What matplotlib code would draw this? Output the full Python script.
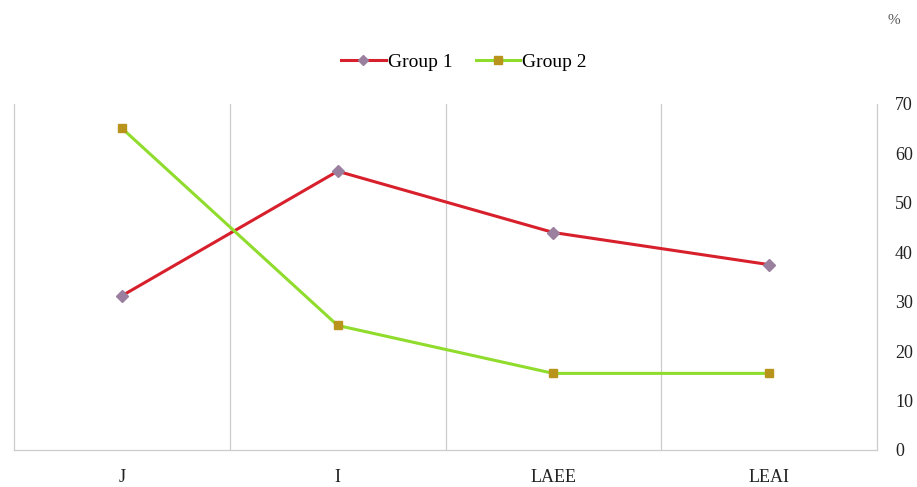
import matplotlib.pyplot as plt
import numpy as np

categories = ['J', 'I', 'LAEE', 'LEAI']
group1 = [31.2, 56.4, 44.0, 37.5]
group2 = [65.1, 25.2, 15.5, 15.5]
y_ticks = [0, 10, 20, 30, 40, 50, 60, 70]

plt.rcParams['font.family'] = ['Liberation Serif', 'DejaVu Serif']

fig = plt.figure(figsize=(9.17, 4.87), dpi=100)
ax = fig.add_axes([14 / 917, 37 / 487, 863 / 917, 346 / 487])

x = np.arange(len(categories))
ax.plot(x, group1, color='#d8202c', lw=2.2, marker='D', ms=6,
        mfc='#9b7f9f', mec='#9b7f9f', label='Group 1', zorder=3)
ax.plot(x, group2, color='#8fdc2c', lw=2.2, marker='s', ms=6,
        mfc='#b8941c', mec='#b8941c', label='Group 2', zorder=3)

ax.set_xlim(-0.5, len(categories) - 0.5)
ax.set_ylim(0, 70)
ax.set_yticks(y_ticks)
ax.yaxis.tick_right()
ax.set_xticks(x)
ax.set_xticklabels(categories, fontsize=14)
ax.tick_params(axis='both', length=0, labelsize=13, colors='#222222')
ax.tick_params(axis='x', pad=14)
ax.tick_params(axis='y', pad=13)

# separators between categories
for b in np.arange(0.5, len(categories) - 0.5, 1):
    ax.axvline(b, color='#cccccc', lw=0.9, zorder=1)

for side in ['left', 'right', 'bottom']:
    ax.spines[side].set_color('#cccccc')
    ax.spines[side].set_linewidth(0.9)
ax.spines['top'].set_visible(False)

fig.text(888 / 917, 1 - 20 / 487, '%', fontsize=11, color='#555555',
         ha='left', va='center')

leg = ax.legend(loc='center', bbox_to_anchor=((464 - 14) / 863, (487 - 62 - 37) / 346),
                ncol=2, frameon=False, fontsize=14, handlelength=2.3,
                columnspacing=1.2, handletextpad=0.1, markerscale=0.9)

fig.savefig('out.png', dpi=100)
